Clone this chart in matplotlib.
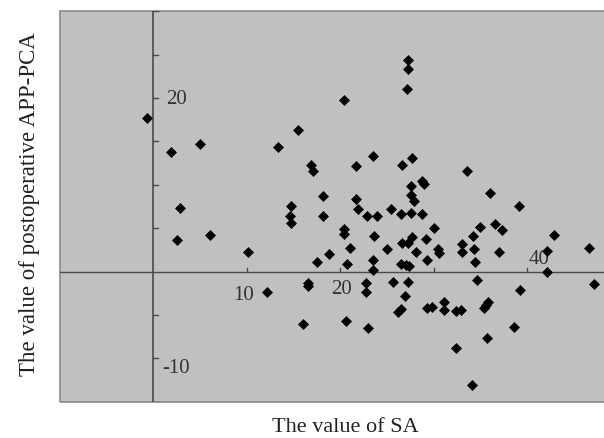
import numpy as np
import matplotlib.pyplot as plt
from matplotlib.patches import Rectangle

# SA value (x) and postoperative APP-PCA value (y)
sa = [-0.73, 1.87, 4.97, 2.83, 2.57, 6.04, 10.07, 12.11, 14.71, 14.65,
      14.71, 15.42, 13.28, 16.84, 17.03, 20.41, 21.66, 18.13, 21.66, 21.84,
      18.13, 22.80, 23.53, 20.43, 20.43, 21.05, 18.77, 17.49, 20.75, 23.58,
      23.53, 23.53, 16.56, 16.56, 15.99, 20.59, 22.97, 22.76, 22.76, 27.22,
      27.22, 27.08, 26.63, 27.70, 33.56, 28.68, 28.96, 27.57, 27.57, 27.83,
      35.99, 25.37, 23.87, 26.47, 27.57, 28.77, 39.14, 30.03, 26.55, 27.22,
      27.61, 29.14, 24.94, 28.07, 30.46, 30.53, 29.25, 26.52, 27.04, 27.36,
      32.96, 32.96, 34.20, 34.97, 34.26, 34.35, 34.65, 25.58, 27.25, 26.95,
      26.18, 26.47, 29.28, 29.84, 31.12, 31.07, 32.35, 32.86, 35.38, 35.56,
      35.83, 32.35, 35.67, 34.03, 37.01, 36.52, 37.30, 39.23, 38.52, 42.05,
      42.05, 42.83, 46.55, 47.17]
app_pca = [17.66, 13.75, 14.71, 7.36, 3.60, 4.23, 2.30, -2.30, 7.54, 6.41,
           5.55, 16.36, 14.37, 12.25, 11.62, 19.80, 12.14, 8.69, 8.39, 7.20,
           6.41, 6.36, 13.37, 4.86, 4.34, 2.76, 1.99, 1.15, 0.84, 4.09,
           1.36, 0.15, -1.34, -1.69, -6.09, -5.68, -6.52, -1.29, -2.30, 24.40,
           23.37, 21.07, 12.25, 13.10, 11.62, 10.46, 10.11, 9.89, 8.83, 8.11,
           9.00, 7.20, 6.39, 6.59, 6.70, 6.59, 7.54, 5.06, 3.33, 3.31,
           4.02, 3.79, 2.64, 2.30, 2.64, 2.18, 1.30, 0.90, 0.78, 0.64,
           3.14, 2.30, 4.11, 5.11, 2.64, 1.15, -0.98, -1.26, -1.26, -2.76,
           -4.71, -4.33, -4.25, -4.10, -3.53, -4.39, -4.60, -4.39, -4.18, -3.87,
           -3.49, -8.76, -7.63, -13.07, 2.30, 5.44, 4.75, -2.11, -6.37, 0.00,
           2.37, 4.25, 2.76, -1.49]

x_ticks = [10, 20, 30, 40]
y_ticks = [-15, -10, -5, 5, 10, 15, 20, 25, 30]

plt.rcParams['font.family'] = ['Liberation Serif', 'DejaVu Serif']

fig = plt.figure(figsize=(6.04, 4.39), dpi=100)
ax = fig.add_axes([60 / 604, 36.3 / 439, 544 / 604, 390.4 / 439])
ax.set_facecolor('#c0c0c0')
ax.set_xlim(-10, 48.2)
ax.set_ylim(-15, 30)

# outer border of the plot area (right side is cut off in the reference)
for side in ['top', 'right', 'bottom', 'left']:
    ax.spines[side].set_visible(False)
ax.add_patch(Rectangle((0, 0), 1.02, 1, transform=ax.transAxes, fill=False,
                       edgecolor='#8a8a8a', linewidth=1.2, clip_on=False, zorder=1))

# axes crossing at zero
ax.axhline(0, color='#4a4a4a', linewidth=1.0, zorder=2)
ax.axvline(0, color='#4a4a4a', linewidth=1.2, zorder=2)
ax.set_xticks([])
ax.set_yticks([])
for xt in x_ticks:
    ax.plot([xt, xt], [0, 0.45], color='#4a4a4a', linewidth=1.0, zorder=2)
for yt in y_ticks:
    ax.plot([0, 0.45], [yt, yt], color='#4a4a4a', linewidth=1.0, zorder=2)

# tick labels as placed in the reference
lab = dict(fontsize=15, color='#333333')
ax.text(1.4, 20.0, '20', ha='left', va='center', **lab)
ax.text(0.9, -11.1, '-10', ha='left', va='center', **lab)
ax.text(9.6, -2.7, '10', ha='center', va='center', **lab)
ax.text(20.1, -2.0, '20', ha='center', va='center', **lab)
ax.text(41.2, 1.5, '40', ha='center', va='center', **lab)

ax.plot(sa, app_pca, linestyle='none', marker='D', markersize=5,
        color='black', markeredgewidth=0.5, zorder=3, clip_on=False)

fig.text(345 / 604, 1 - 432 / 439, 'The value of SA', ha='center', va='baseline',
         fontsize=16, color='#222222')
fig.text(30 / 604, 1 - 204 / 439, 'The value of postoperative APP-PCA',
         ha='center', va='center', rotation=90, fontsize=16.5, color='#222222')

fig.savefig('out.png', dpi=100)
